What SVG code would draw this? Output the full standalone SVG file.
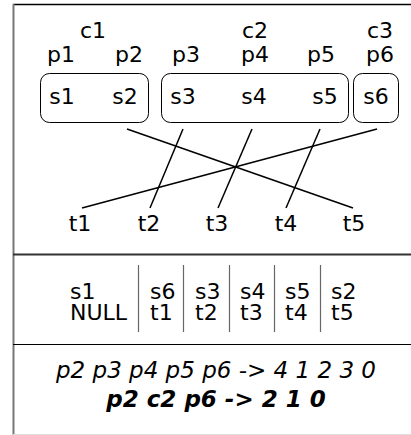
<svg xmlns="http://www.w3.org/2000/svg" width="411" height="435" viewBox="0 0 411 435">
<style>
text{font-family:"DejaVu Sans","Liberation Sans",sans-serif;font-size:22px;fill:#000}
.m{text-anchor:middle}
.box{fill:#fff;stroke:#000;stroke-width:1}
.ln{stroke:#000;stroke-width:1.5;fill:none}
.sep{stroke:#666;stroke-width:1.2}
.res{font-size:23px;font-style:italic}
</style>
<rect width="411" height="435" fill="#fff"/>
<g id="frame">
<line x1="13" y1="4.5" x2="411" y2="4.5" stroke="#000" stroke-width="1.5"/>
<line x1="13.5" y1="4" x2="13.5" y2="435" stroke="#777" stroke-width="2"/>
<line x1="13" y1="254.5" x2="411" y2="254.5" stroke="#333" stroke-width="2"/>
<line x1="13" y1="344.5" x2="411" y2="344.5" stroke="#000" stroke-width="1"/>
<line x1="13" y1="434.5" x2="411" y2="434.5" stroke="#ddd" stroke-width="1"/>
</g>
<g id="labels-c">
<text class="m" x="93" y="38">c1</text>
<text class="m" x="255" y="38">c2</text>
<text class="m" x="380" y="38">c3</text>
</g>
<g id="labels-p">
<text class="m" x="61" y="62">p1</text>
<text class="m" x="129" y="62">p2</text>
<text class="m" x="186" y="62">p3</text>
<text class="m" x="255" y="62">p4</text>
<text class="m" x="321" y="62">p5</text>
<text class="m" x="380" y="62">p6</text>
</g>
<g id="c1"><rect class="box" x="40.5" y="73.5" width="108" height="49" rx="9"/>
<text class="m" x="62" y="104">s1</text><text class="m" x="125" y="104">s2</text></g>
<g id="c2"><rect class="box" x="161.5" y="73.5" width="187" height="49" rx="9"/>
<text class="m" x="183" y="104">s3</text><text class="m" x="254" y="104">s4</text><text class="m" x="325" y="104">s5</text></g>
<g id="c3"><rect class="box" x="353.5" y="73.5" width="45" height="49" rx="9"/>
<text class="m" x="376" y="104">s6</text></g>
<g id="connectors">
<line class="ln" x1="127" y1="129" x2="353" y2="208"/>
<line class="ln" x1="377" y1="129" x2="82" y2="208"/>
<line class="ln" x1="183" y1="129" x2="150" y2="208"/>
<line class="ln" x1="252" y1="129" x2="218" y2="208"/>
<line class="ln" x1="320" y1="129" x2="286" y2="208"/>
</g>
<g id="targets">
<text class="m" x="80" y="231">t1</text>
<text class="m" x="149" y="231">t2</text>
<text class="m" x="217" y="231">t3</text>
<text class="m" x="286" y="231">t4</text>
<text class="m" x="354" y="231">t5</text>
</g>
<g id="table">
<line class="sep" x1="138.5" y1="265" x2="138.5" y2="332"/>
<line class="sep" x1="183.5" y1="265" x2="183.5" y2="332"/>
<line class="sep" x1="229.5" y1="265" x2="229.5" y2="332"/>
<line class="sep" x1="274.5" y1="265" x2="274.5" y2="332"/>
<line class="sep" x1="320.5" y1="265" x2="320.5" y2="332"/>
<text x="70" y="299">s1</text><text x="70" y="320">NULL</text>
<text x="150" y="299">s6</text><text x="150" y="320">t1</text>
<text x="195" y="299">s3</text><text x="195" y="320">t2</text>
<text x="240" y="299">s4</text><text x="240" y="320">t3</text>
<text x="285" y="299">s5</text><text x="285" y="320">t4</text>
<text x="331" y="299">s2</text><text x="331" y="320">t5</text>
</g>
<g id="result">
<text class="m res" x="216" y="378">p2 p3 p4 p5 p6 -&gt; 4 1 2 3 0</text>
<text class="m res" x="216" y="407" font-weight="bold">p2 c2 p6 -&gt; 2 1 0</text>
</g>
</svg>
